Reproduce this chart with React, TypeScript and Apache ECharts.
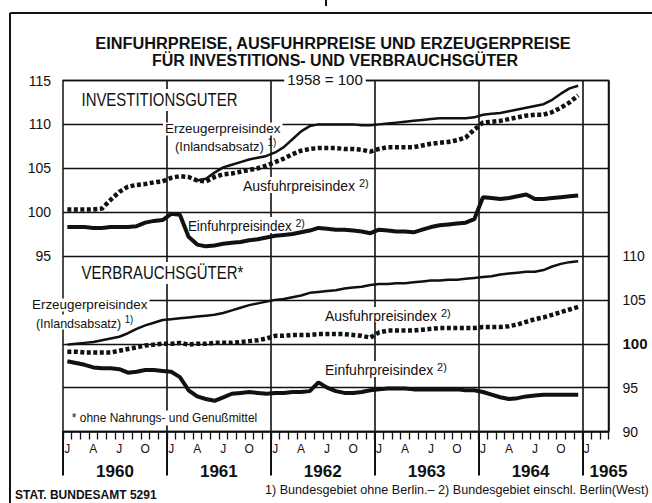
import React, { useEffect, useRef } from "react";
import * as echarts from "echarts";

// ---- data (monthly, Jan 1960 .. Dec 1964) ----
const MONTH_LETTERS = ["J", "F", "M", "A", "M", "J", "J", "A", "S", "O", "N", "D"];
const YEAR_LABELS = ["1960", "1961", "1962", "1963", "1964", "1965"];
const LEFT_TICKS_SHOWN = [95, 100, 105, 110, 115];
const RIGHT_TICKS_SHOWN = [90, 95, 100, 105, 110];

// Investitionsgüter (left scale)
const INV_ERZEUGER = [
  null, null, null, null, null, null, null, null, null, null,
  null, null, null, null, null, 103.6, 103.8, 104.5, 105.1, 105.4,
  105.7, 106.0, 106.2, 106.4, 106.8, 107.4, 108.3, 109.2, 109.8, 110.0,
  110.0, 110.0, 110.0, 110.0, 109.9, 109.9, 110.0, 110.1, 110.2, 110.3,
  110.4, 110.5, 110.6, 110.7, 110.7, 110.7, 110.7, 110.8, 111.1, 111.2,
  111.3, 111.5, 111.7, 111.9, 112.1, 112.3, 112.8, 113.5, 114.1, 114.4,
];
const INV_AUSFUHR = [
  100.3, 100.3, 100.3, 100.3, 100.4, 101.4, 102.3, 102.9, 103.1, 103.2,
  103.4, 103.5, 103.9, 104.1, 104.0, 103.6, 103.5, 104.0, 104.3, 104.4,
  104.6, 104.8, 105.0, 105.3, 105.7, 106.1, 106.6, 107.0, 107.2, 107.3,
  107.3, 107.3, 107.2, 107.2, 107.1, 106.9, 107.2, 107.4, 107.4, 107.4,
  107.4, 107.6, 107.8, 107.9, 108.0, 108.2, 108.5, 109.4, 110.2, 110.3,
  110.4, 110.6, 110.8, 111.0, 111.1, 111.1, 111.4, 111.9, 112.5, 113.3,
];
const INV_EINFUHR = [
  98.3, 98.3, 98.3, 98.2, 98.2, 98.3, 98.3, 98.3, 98.4, 98.8,
  99.0, 99.1, 99.8, 99.7, 97.2, 96.3, 96.1, 96.2, 96.4, 96.5,
  96.6, 96.8, 96.9, 97.1, 97.3, 97.4, 97.5, 97.7, 97.9, 98.2,
  98.1, 98.0, 98.0, 97.9, 97.8, 97.6, 98.0, 97.9, 97.8, 97.8,
  97.7, 98.0, 98.3, 98.5, 98.6, 98.7, 98.8, 99.2, 101.7, 101.6,
  101.5, 101.6, 101.8, 102.0, 101.5, 101.5, 101.6, 101.7, 101.8, 101.9,
];

// Verbrauchsgüter (right scale)
const VER_ERZEUGER = [
  99.9, 100.0, 100.1, 100.2, 100.4, 100.6, 100.8, 101.2, 101.7, 102.1,
  102.4, 102.7, 102.8, 102.9, 103.0, 103.1, 103.2, 103.3, 103.5, 103.8,
  104.1, 104.4, 104.6, 104.8, 105.0, 105.1, 105.3, 105.5, 105.8, 105.9,
  106.0, 106.1, 106.3, 106.4, 106.5, 106.7, 106.8, 106.8, 106.9, 106.9,
  107.0, 107.1, 107.2, 107.2, 107.3, 107.3, 107.4, 107.5, 107.6, 107.7,
  107.9, 108.0, 108.1, 108.2, 108.2, 108.4, 108.8, 109.1, 109.3, 109.4,
];
const VER_AUSFUHR = [
  99.1, 99.1, 99.0, 99.0, 99.0, 99.0, 99.2, 99.4, 99.6, 99.8,
  99.9, 100.0, 100.0, 100.1, 99.9, 100.0, 100.0, 100.1, 100.1, 100.1,
  100.2, 100.3, 100.4, 100.6, 100.9, 100.9, 101.0, 101.0, 101.0, 101.1,
  101.1, 101.1, 101.1, 101.0, 100.9, 100.7, 101.3, 101.5, 101.5, 101.5,
  101.5, 101.6, 101.7, 101.8, 101.8, 101.8, 101.8, 101.8, 101.9, 101.9,
  101.9, 102.0, 102.2, 102.5, 102.8, 103.0, 103.3, 103.6, 103.9, 104.2,
];
const VER_EINFUHR = [
  98.0, 97.8, 97.6, 97.3, 97.2, 97.2, 97.1, 96.7, 96.8, 97.0,
  97.0, 96.9, 96.8, 96.2, 94.7, 94.0, 93.7, 93.5, 93.9, 94.3,
  94.4, 94.5, 94.4, 94.3, 94.4, 94.4, 94.5, 94.5, 94.6, 95.6,
  95.0, 94.6, 94.4, 94.4, 94.5, 94.7, 94.8, 94.9, 94.9, 94.9,
  94.8, 94.8, 94.8, 94.8, 94.8, 94.8, 94.7, 94.7, 94.5, 94.2,
  93.9, 93.7, 93.8, 94.0, 94.1, 94.2, 94.2, 94.2, 94.2, 94.2,
];

const N_MONTHS_AXIS = 63; // Jan 1960 .. Mar 1965
const CATEGORIES = Array.from({ length: N_MONTHS_AXIS }, (_, i) => MONTH_LETTERS[i % 12]);

const FONT = "'Liberation Sans', Arial, sans-serif";
const INK = "#111";

const GRID = { left: 63, top: 80.5, width: 545.5, height: 351 };

function txt(text: string, x: number, y: number, size: number, scaleX = 1, extra: any = {}) {
  return {
    type: "text",
    z: 1,
    x,
    y,
    scaleX,
    style: {
      text,
      x: 0,
      y: 0,
      fill: INK,
      fontSize: size,
      fontFamily: FONT,
      verticalAlign: "middle",
      ...extra,
    },
  };
}

function supText(main: string, sup: string, x: number, y: number, size: number, scaleX = 1, bg = true) {
  return {
    type: "text",
    z: 1,
    x,
    y,
    scaleX,
    style: {
      text: `{n|${main} }{s|${sup}}`,
      x: 0,
      y: 0,
      fill: INK,
      fontFamily: FONT,
      verticalAlign: "middle",
      backgroundColor: bg ? "#fff" : undefined,
      padding: bg ? [0, 2] : 0,
      rich: {
        n: { fontSize: size, fontFamily: FONT, fill: INK, lineHeight: size + 2, verticalAlign: "bottom" },
        s: { fontSize: size - 3, fontFamily: FONT, fill: INK, lineHeight: size - 3, verticalAlign: "top" },
      },
    },
  };
}

export default function App() {
  const ref = useRef<HTMLDivElement>(null);
  useEffect(() => {
    if (!ref.current) return;
    const chart = echarts.init(ref.current, null, { renderer: "svg" });
    const lineBase = { type: "line", xAxisIndex: 0, showSymbol: false, symbol: "none", smooth: false, z: 3 };
    const option: any = {
      animation: false,
      backgroundColor: "#fff",
      grid: [
        { ...GRID, show: true, borderColor: INK, borderWidth: 1.5, backgroundColor: "transparent", outerBoundsMode: "none" },
        { left: GRID.left, top: GRID.top, width: (GRID.width * 60) / 63, height: GRID.height, outerBoundsMode: "none" },
        { ...GRID, outerBoundsMode: "none" },
      ],
      xAxis: [
        {
          gridIndex: 0,
          type: "category",
          data: CATEGORIES,
          boundaryGap: true,
          axisLine: { lineStyle: { color: INK, width: 1.5 } },
          axisTick: { show: true, interval: 0, length: 8, lineStyle: { color: INK, width: 1.3 } },
          axisLabel: {
            interval: (i: number) => i % 3 === 0,
            margin: 11,
            fontSize: 12,
            color: INK,
            fontFamily: FONT,
          },
          splitLine: {
            show: true,
            interval: (i: number) => i % 12 === 0 && i > 0,
            lineStyle: { color: INK, width: 1.6 },
          },
        },
        {
          gridIndex: 1,
          type: "value",
          min: 0,
          max: 60,
          interval: 12,
          axisLine: { show: false },
          axisTick: { show: true, length: 44, lineStyle: { color: INK, width: 2 } },
          axisLabel: { show: false },
          splitLine: { show: false },
        },
        {
          gridIndex: 2,
          type: "value",
          min: 0,
          max: 63,
          interval: 6,
          axisLine: { show: false },
          axisTick: { show: false },
          splitLine: { show: false },
          axisLabel: {
            margin: 31,
            fontSize: 17,
            fontWeight: "bold",
            color: INK,
            fontFamily: FONT,
            showMaxLabel: true,
            showMinLabel: true,
            formatter: (v: number) => {
              if (v === 63) return YEAR_LABELS[5];
              if (v % 12 === 6) return YEAR_LABELS[(v - 6) / 12];
              return "";
            },
          },
        },
      ],
      yAxis: [
        {
          gridIndex: 0,
          type: "value",
          position: "left",
          min: 75,
          max: 115,
          interval: 5,
          axisLine: { show: false },
          axisTick: { show: false },
          splitLine: { show: true, lineStyle: { color: INK, width: 1.3 } },
          axisLabel: {
            margin: 12,
            fontSize: 14,
            color: INK,
            fontFamily: FONT,
            formatter: (v: number) => (LEFT_TICKS_SHOWN.includes(v) ? String(v) : ""),
          },
        },
        {
          gridIndex: 0,
          type: "value",
          position: "right",
          min: 90,
          max: 130,
          interval: 5,
          axisLine: { show: false },
          axisTick: { show: false },
          splitLine: { show: false },
          axisLabel: {
            margin: 14,
            fontSize: 14,
            color: INK,
            fontFamily: FONT,
            formatter: (v: number) =>
              RIGHT_TICKS_SHOWN.includes(v) ? (v === 100 ? "{b|100}" : String(v)) : "",
            rich: { b: { fontSize: 15, fontWeight: "bold", fontFamily: FONT, color: INK } },
          },
        },
        { gridIndex: 1, type: "value", show: false, min: 0, max: 1 },
        { gridIndex: 2, type: "value", show: false, min: 0, max: 1 },
      ],
      series: [
        { ...lineBase, name: "Inv Erzeuger", yAxisIndex: 0, data: INV_ERZEUGER, lineStyle: { color: INK, width: 2.5 } },
        { ...lineBase, name: "Inv Ausfuhr", yAxisIndex: 0, data: INV_AUSFUHR, lineStyle: { color: INK, width: 4.5, type: [4, 2.5], cap: "butt" } },
        { ...lineBase, name: "Inv Einfuhr", yAxisIndex: 0, data: INV_EINFUHR, lineStyle: { color: INK, width: 4 } },
        { ...lineBase, name: "Ver Erzeuger", yAxisIndex: 1, data: VER_ERZEUGER, lineStyle: { color: INK, width: 2.5 } },
        { ...lineBase, name: "Ver Ausfuhr", yAxisIndex: 1, data: VER_AUSFUHR, lineStyle: { color: INK, width: 4.5, type: [4, 2.5], cap: "butt" } },
        { ...lineBase, name: "Ver Einfuhr", yAxisIndex: 1, data: VER_EINFUHR, lineStyle: { color: INK, width: 4 } },
      ],
      graphic: [
        // frame
        { type: "line", z: 1, shape: { x1: 10, y1: 13, x2: 652, y2: 13 }, style: { stroke: INK, lineWidth: 2 } },
        { type: "line", z: 1, shape: { x1: 10, y1: 13, x2: 10, y2: 503 }, style: { stroke: INK, lineWidth: 2 } },
        { type: "line", z: 1, shape: { x1: 326, y1: 0, x2: 326, y2: 6 }, style: { stroke: INK, lineWidth: 2 } },
        // title
        txt("EINFUHRPREISE, AUSFUHRPREISE UND ERZEUGERPREISE", 333, 43, 16, 1.02, { fontWeight: "bold", align: "center" }),
        txt("FÜR INVESTITIONS- UND VERBRAUCHSGÜTER", 335, 60, 16, 1.0, { fontWeight: "bold", align: "center" }),
        txt("1958 = 100", 325, 79, 15, 1.0, { align: "center", backgroundColor: "#fff", padding: [0, 3] }),
        // upper panel labels
        txt("INVESTITIONSGUTER", 79, 100, 18, 0.83, { backgroundColor: "#fff", padding: [2, 3] }),
        txt("Erzeugerpreisindex", 163, 129, 13, 1.03, { backgroundColor: "#fff", padding: [0, 2] }),
        supText("(Inlandsabsatz)", "1)", 175, 145, 13, 1.0, false),
        supText("Ausfuhrpreisindex", "2)", 241, 185, 14, 1.0),
        supText("Einfuhrpreisindex", "2)", 186, 225, 14, 0.96),
        // lower panel labels
        txt("VERBRAUCHSGÜTER*", 79, 273, 18, 0.83, { backgroundColor: "#fff", padding: [2, 3] }),
        txt("Erzeugerpreisindex", 30, 305, 13, 1.03, { backgroundColor: "#fff", padding: [0, 2] }),
        supText("(Inlandsabsatz)", "1)", 34, 322, 13, 0.96),
        supText("Ausfuhrpreisindex", "2)", 323, 315, 14, 1.0),
        supText("Einfuhrpreisindex", "2)", 323, 369, 14, 1.0),
        txt("* ohne Nahrungs- und Genußmittel", 70, 418, 13, 0.92, { backgroundColor: "#fff", padding: [1, 2] }),
        // footer
        txt("STAT. BUNDESAMT 5291", 15, 495, 12, 1.0, { fontWeight: "bold" }),
        txt("1) Bundesgebiet ohne Berlin.– 2) Bundesgebiet einschl. Berlin(West)", 265, 489, 13, 0.97),
      ],
    };
    chart.setOption(option);
    return () => chart.dispose();
  }, []);
  return (
    <div
      ref={ref}
      style={{ position: "absolute", left: 0, top: 0, width: 652, height: 503, background: "#fff" }}
    />
  );
}
